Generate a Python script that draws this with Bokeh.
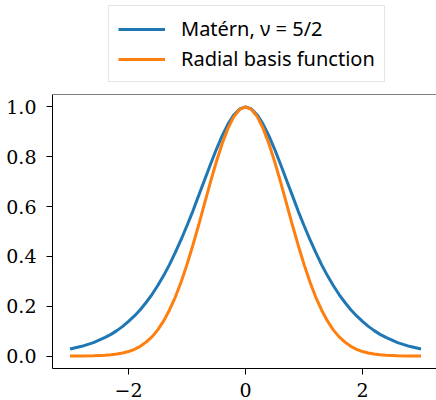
from bokeh.plotting import figure
from bokeh.layouts import column
from bokeh.models import Range1d, FixedTicker, Legend, LegendItem, Span
from bokeh.embed import file_html
from bokeh.resources import INLINE

# data
x_vals = [-3.0, -2.8, -2.6, -2.4, -2.3, -2.2, -2.1, -2.0, -1.9, -1.8, -1.7, -1.6, -1.5, -1.4,
          -1.3, -1.2, -1.1, -1.0, -0.9, -0.8, -0.7, -0.6, -0.5, -0.4, -0.3, -0.2, -0.1,
          0.0, 0.1, 0.2, 0.3, 0.4, 0.5, 0.6, 0.7, 0.8, 0.9, 1.0, 1.1, 1.2, 1.3, 1.4, 1.5,
          1.6, 1.7, 1.8, 1.9, 2.0, 2.1, 2.2, 2.3, 2.4, 2.6, 2.8, 3.0]
matern_vals = [0.028, 0.039, 0.054, 0.075, 0.087, 0.102, 0.119, 0.139, 0.161, 0.186, 0.215,
               0.247, 0.283, 0.323, 0.367, 0.416, 0.468, 0.524, 0.582, 0.645, 0.707, 0.769,
               0.829, 0.884, 0.931, 0.968, 0.992, 1.0, 0.992, 0.968, 0.931, 0.884, 0.829,
               0.769, 0.707, 0.645, 0.582, 0.524, 0.468, 0.416, 0.367, 0.323, 0.283, 0.247,
               0.215, 0.186, 0.161, 0.139, 0.119, 0.102, 0.087, 0.075, 0.054, 0.039, 0.028]
rbf_vals = [0.0001, 0.0004, 0.001, 0.003, 0.005, 0.008, 0.012, 0.018, 0.027, 0.039, 0.056,
            0.077, 0.105, 0.141, 0.185, 0.237, 0.298, 0.368, 0.445, 0.527, 0.613, 0.698,
            0.779, 0.852, 0.914, 0.961, 0.990, 1.0, 0.990, 0.961, 0.914, 0.852, 0.779,
            0.698, 0.613, 0.527, 0.445, 0.368, 0.298, 0.237, 0.185, 0.141, 0.105, 0.077,
            0.056, 0.039, 0.027, 0.018, 0.012, 0.008, 0.005, 0.003, 0.001, 0.0004, 0.0001]
series_names = ["Matérn, ν = 5/2", "Radial basis function"]
series_colors = ["#1f77b4", "#ff7f0e"]
x_ticks = [-2, 0, 2]
x_tick_labels = ["−2", "0", "2"]
y_ticks = [0.0, 0.2, 0.4, 0.6, 0.8, 1.0]
y_tick_labels = ["0.0", "0.2", "0.4", "0.6", "0.8", "1.0"]

# legend strip above the plot (its frame is aligned with the plot frame below)
top = figure(width=436, height=90, output_backend="svg", toolbar_location=None,
             x_axis_location=None, y_axis_location=None,
             x_range=Range1d(0, 1), y_range=Range1d(0, 1),
             min_border_left=0, min_border_right=0, min_border_top=0, min_border_bottom=0)
top.outline_line_color = None
top.xgrid.visible = False
top.ygrid.visible = False
# legend proxies, placed outside the visible range
lr = [top.line([5, 6], [5, 6], line_color=c, line_width=3) for c in series_colors]

legend = Legend(items=[LegendItem(label=n, renderers=[r]) for n, r in zip(series_names, lr)],
                location=(56, 8), orientation="vertical")
legend.label_text_font = "Noto Sans"
legend.label_text_font_size = "20px"
legend.label_text_color = "black"
legend.glyph_width = 47
legend.glyph_height = 22
legend.label_height = 22
legend.label_standoff = 16
legend.spacing = 3
legend.padding = 9
legend.margin = 0
legend.border_line_color = "#cccccc"
legend.border_line_width = 1
legend.background_fill_alpha = 0.8
top.add_layout(legend, "center")

p = figure(width=436, height=310, output_backend="svg", toolbar_location=None,
           x_range=Range1d(-3.3, 3.265), y_range=Range1d(-0.05, 1.05),
           min_border_left=52, min_border_right=0, min_border_bottom=32, min_border_top=4)
p.outline_line_color = None
p.xgrid.visible = False
p.ygrid.visible = False

p.line(x_vals, matern_vals, line_color=series_colors[0], line_width=3)
p.line(x_vals, rbf_vals, line_color=series_colors[1], line_width=3)

p.add_layout(Span(location=1.05, dimension="width", line_color="black", line_width=1))

for ax, ticks, labels in [(p.xaxis[0], x_ticks, x_tick_labels), (p.yaxis[0], y_ticks, y_tick_labels)]:
    ax.ticker = FixedTicker(ticks=ticks)
    ax.major_label_overrides = {t: l for t, l in zip(ticks, labels)}
    ax.minor_tick_line_color = None
    ax.major_tick_in = 0
    ax.major_tick_out = 6
    ax.axis_line_color = "black"
    ax.major_tick_line_color = "black"
    ax.major_label_text_font = "DejaVu Serif"
    ax.major_label_text_font_size = "19px"
    ax.major_label_text_color = "black"
p.xaxis.major_label_text_baseline = "alphabetic"
p.xaxis.major_label_standoff = 8
p.yaxis.major_label_standoff = 10

layout = column(top, p, spacing=0)
open("out.html", "w").write(file_html(layout, INLINE))
